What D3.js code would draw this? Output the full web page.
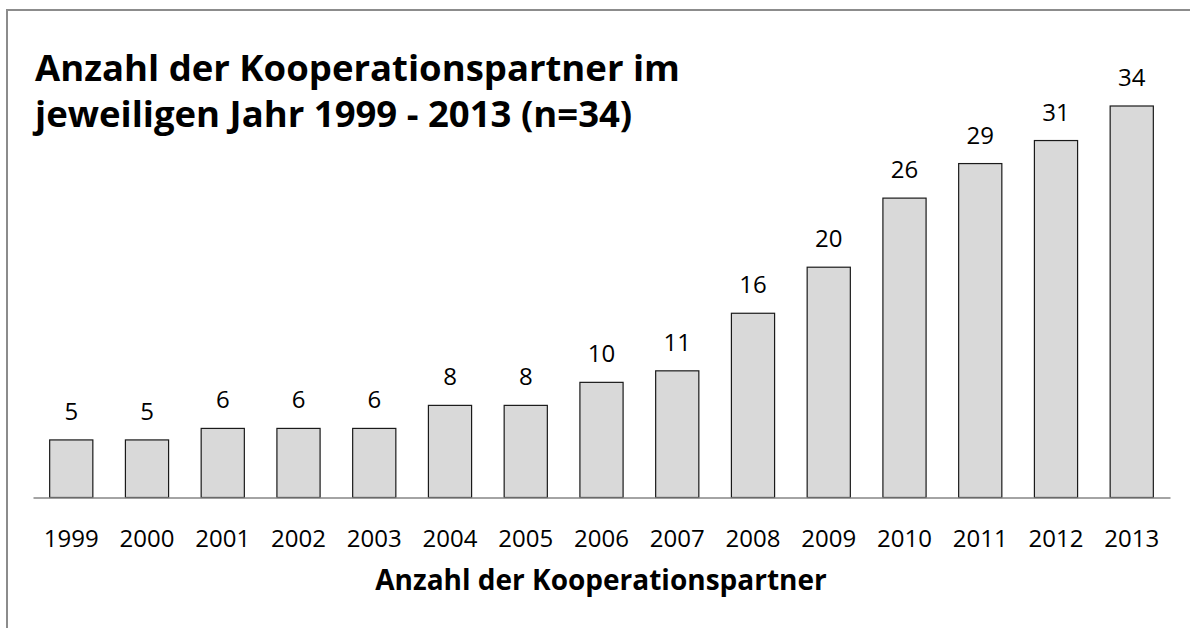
<!DOCTYPE html>
<html>
<head>
<meta charset="utf-8">
<script src="https://cdn.jsdelivr.net/npm/d3@7"></script>
<style>
  body { margin: 0; background: #fff; }
  text { font-family: "Open Sans", sans-serif; fill: #000; }
</style>
</head>
<body>
<div id="chart"></div>
<script>
// Chart data
var years = ["1999", "2000", "2001", "2002", "2003", "2004", "2005", "2006", "2007", "2008", "2009", "2010", "2011", "2012", "2013"];
var partners = [5, 5, 6, 6, 6, 8, 8, 10, 11, 16, 20, 26, 29, 31, 34];
var titleLines = ["Anzahl der Kooperationspartner im", "jeweiligen Jahr 1999 - 2013 (n=34)"];
var xAxisTitle = "Anzahl der Kooperationspartner";

var svgWidth = 1190;
var svgHeight = 628;

var svg = d3.select("#chart")
  .append("svg")
  .attr("width", svgWidth)
  .attr("height", svgHeight);

// outer frame (runs off the right and bottom edges)
svg.append("rect")
  .attr("x", 7)
  .attr("y", 10)
  .attr("width", 1200)
  .attr("height", 640)
  .attr("fill", "none")
  .attr("stroke", "#8c8c8c")
  .attr("stroke-width", 2);

var data = years.map((y, i) => ({ year: y, value: partners[i] }));

var xBandScale = d3.scaleBand()
  .domain(years)
  .range([33, 1170])
  .paddingInner(0.43)
  .paddingOuter(0.22);

var yLinearScale = d3.scaleLinear()
  .domain([0, 34])
  .range([497.5, 106]);

// bars
svg.selectAll("rect.bar").data(data)
  .enter()
  .append("rect")
  .attr("class", "bar")
  .attr("x", d => xBandScale(d.year))
  .attr("y", d => yLinearScale(d.value))
  .attr("width", xBandScale.bandwidth())
  .attr("height", d => yLinearScale(0) - yLinearScale(d.value))
  .attr("fill", "#d9d9d9")
  .attr("stroke", "#1a1a1a")
  .attr("stroke-width", 1.2);

// value labels
svg.selectAll("text.value").data(data)
  .enter()
  .append("text")
  .attr("class", "value")
  .attr("x", d => xBandScale(d.year) + xBandScale.bandwidth() / 2)
  .attr("y", d => yLinearScale(d.value) - 20)
  .attr("text-anchor", "middle")
  .style("font-size", "24px")
  .text(d => d.value);

// x axis
var bottomAxis = d3.axisBottom(xBandScale).tickSize(0).tickPadding(0);
var xAxis = svg.append("g")
  .attr("transform", `translate(0, ${yLinearScale(0)})`)
  .call(bottomAxis);
xAxis.select(".domain").attr("stroke", "#868686").attr("stroke-width", 1.5);
xAxis.selectAll("text")
  .attr("dy", null)
  .attr("y", 49.5)
  .style("font-size", "24px")
  .style("font-family", "'Open Sans', sans-serif")
  .attr("fill", "#000");

// axis title
svg.append("text")
  .attr("x", 601)
  .attr("y", 590)
  .attr("text-anchor", "middle")
  .style("font-size", "28px")
  .style("font-weight", "bold")
  .text(xAxisTitle);

// chart title
svg.selectAll("text.title").data(titleLines)
  .enter()
  .append("text")
  .attr("class", "title")
  .attr("x", 35)
  .attr("y", (d, i) => 81 + i * 46)
  .style("font-size", "36.5px")
  .style("font-weight", "bold")
  .text(d => d);
</script>
</body>
</html>
